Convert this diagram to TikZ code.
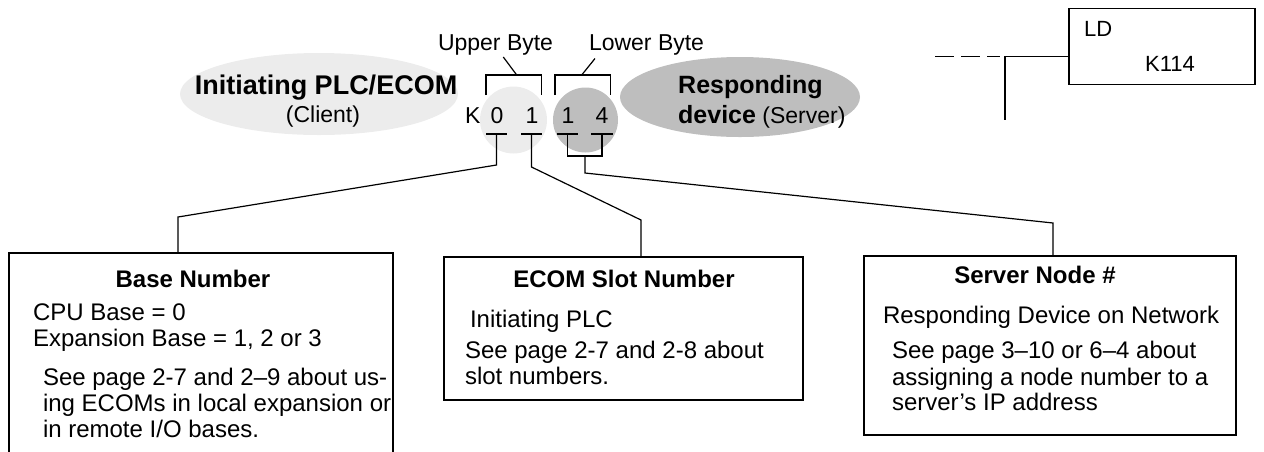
\documentclass[tikz,border=0pt]{standalone}
\usepackage{fontspec}
\setmainfont{Liberation Sans}
\usetikzlibrary{shapes.geometric}
\definecolor{lightfill}{HTML}{ECECEC}
\definecolor{darkfill}{HTML}{BEBEBE}
\begin{document}
\begin{tikzpicture}[x=1pt,y=-1pt,
  lbl/.style={inner sep=0pt, outer sep=0pt, font=\fontsize{23}{26}\selectfont},
  body/.style={inner sep=0pt, outer sep=0pt, font=\fontsize{24}{26}\selectfont},
  head/.style={inner sep=0pt, outer sep=0pt, font=\fontsize{24}{26}\selectfont\bfseries},
  wire/.style={draw, line width=1.2pt},
  infobox/.style={draw, line width=1.2pt, inner sep=0pt, outer sep=0pt},
]
\useasboundingbox (0,0) rectangle (1264,451);

% background shapes
\node[ellipse, fill=lightfill, minimum width=278pt, minimum height=82pt, inner sep=0pt] (client) at (319,94) {};
\node[ellipse, fill=darkfill, minimum width=240pt, minimum height=80pt, inner sep=0pt] (server) at (740,97) {};
\node[circle, fill=lightfill, minimum size=67pt, inner sep=0pt] (upper) at (513.5,120) {};
\node[circle, fill=darkfill, minimum size=65pt, inner sep=0pt] (lower) at (585.5,120) {};

% ellipse texts
\node[inner sep=0pt, anchor=base, font=\fontsize{27}{29}\selectfont\bfseries] (clienttitle) at (326,94) {Initiating PLC/ECOM};
\node[lbl, anchor=base] (clientsub) at (323,122) {(Client)};
\node[inner sep=0pt, anchor=base west, font=\fontsize{25}{28}\selectfont\bfseries] (servertitle) at (678,93) {Responding};
\node[inner sep=0pt, anchor=base west] (serversub) at (678,123) {{\fontsize{25}{28}\selectfont\bfseries device}{\fontsize{23}{26}\selectfont\ (Server)}};

% K value
\node[lbl, anchor=base west] (k) at (465,123) {K};
\node[lbl, anchor=base] (d0) at (497,123) {0};
\node[lbl, anchor=base] (d1) at (532,123) {1};
\node[lbl, anchor=base] (d2) at (568,123) {1};
\node[lbl, anchor=base] (d3) at (602,123) {4};

% byte labels and brackets
\node[lbl, anchor=base west] (ub) at (438,50) {Upper Byte};
\node[lbl, anchor=base west] (lb) at (589,50) {Lower Byte};
\draw[wire] (486,95) -- (486,75) -- (541.7,75) -- (541.7,95);
\draw[wire] (516.7,75) -- (503.3,57);
\draw[wire] (555,95) -- (555,75) -- (610.7,75) -- (610.7,95);
\draw[wire] (581.7,75) -- (595,58.5);

% bars under digits
\draw[wire] (486,134) -- (507,134);
\draw[wire] (521,134) -- (542,134);
\draw[wire] (557,134) -- (578,134);
\draw[wire] (591,134) -- (613,134);

% info boxes
\begin{scope}
\clip (0,0) rectangle (1264,451);
\node[infobox, minimum width=384pt, minimum height=220pt] (box1) at (201,363) {};
\end{scope}
\node[infobox, minimum width=359pt, minimum height=143pt] (box2) at (623.5,328.5) {};
\node[infobox, minimum width=372pt, minimum height=179pt] (box3) at (1050,345.5) {};

% connectors
\coordinate (t0) at (496.5,134);
\coordinate (t1) at (531.5,134);
\coordinate (t2) at (567.5,134);
\coordinate (t3) at (602,134);
\coordinate (j1) at (178,217);
\coordinate (j2) at (641,220);
\coordinate (j3) at (1053,223);
\draw[wire] (t0) -- (496.5,165) -- (j1) -- (box1.north -| j1);
\draw[wire] (t1) -- (531.5,167) -- (j2) -- (box2.north -| j2);
\draw[wire] (t2) -- (567.5,156) -- (602,156) -- (t3);
\draw[wire] (585,156) -- (585,173) -- (j3) -- (box3.north -| j3);

% box 1 text
\node[head, anchor=base] (h1) at (193,287) {Base Number};
\node[body, anchor=base west] (b1a) at (33,320) {CPU Base = 0};
\node[body, anchor=base west] (b1b) at (33,346) {Expansion Base = 1, 2 or 3};
\node[body, anchor=base west] (b1c) at (43,385) {See page 2-7 and 2–9 about us-};
\node[body, anchor=base west] (b1d) at (43,411) {ing ECOMs in local expansion or};
\node[body, anchor=base west] (b1e) at (43,437) {in remote I/O bases.};

% box 2 text
\node[head, anchor=base] (h2) at (624,287) {ECOM Slot Number};
\node[body, anchor=base west] (b2a) at (470,327) {Initiating PLC};
\node[body, anchor=base west] (b2b) at (465,358) {See page 2-7 and 2-8 about};
\node[body, anchor=base west] (b2c) at (465,384) {slot numbers.};

% box 3 text
\node[head, anchor=base] (h3) at (1035,283) {Server Node \#};
\node[body, anchor=base west] (b3a) at (883,323) {Responding Device on Network};
\node[body, anchor=base west] (b3b) at (892,358) {See page 3–10 or 6–4 about};
\node[body, anchor=base west] (b3c) at (892,385) {assigning a node number to a};
\node[body, anchor=base west] (b3d) at (892,410) {server’s IP address};

% ladder rung
\node[infobox, minimum width=186pt, minimum height=76pt] (ldbox) at (1162,46.3) {};
\node[inner sep=0pt, anchor=base west, font=\fontsize{22}{24}\selectfont] (ld) at (1084,36) {LD};
\node[inner sep=0pt, anchor=base west, font=\fontsize{22}{24}\selectfont] (k114) at (1145,71.7) {K114};
\coordinate (rj) at (1005,56.7);
\coordinate (rb) at (1005,120);
\coordinate (rd) at (935,56.7);
\coordinate (rde) at (1000,56.7);
\draw[wire] (ldbox.west |- rj) -- (rj) -- (rb);
\draw[wire, dash pattern=on 19pt off 7pt] (rd) -- (rde);
\end{tikzpicture}
\end{document}
